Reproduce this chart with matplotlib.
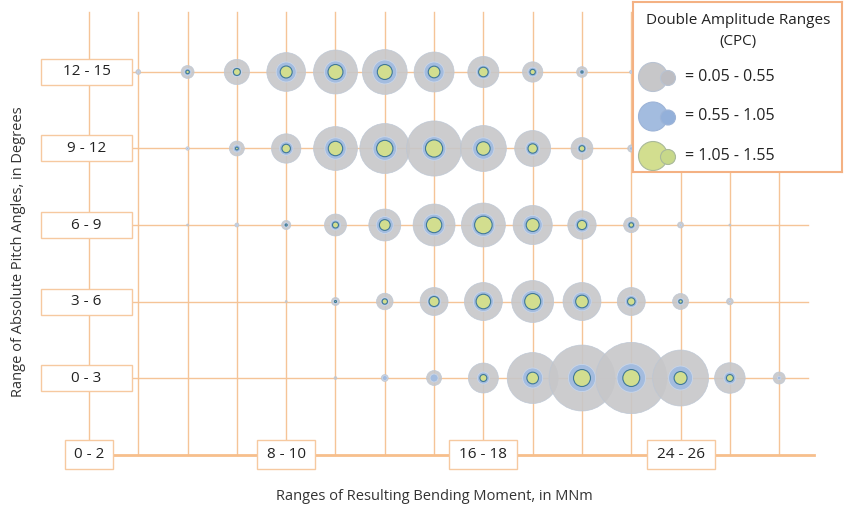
import matplotlib
matplotlib.use("Agg")
import matplotlib.pyplot as plt
from matplotlib.patches import Rectangle, Circle

plt.rcParams['font.family'] = ['Open Sans', 'DejaVu Sans']

# categories
moment_ranges = ["0 - 2", "2 - 4", "4 - 6", "6 - 8", "8 - 10", "10 - 12", "12 - 14", "14 - 16",
                 "16 - 18", "18 - 20", "20 - 22", "22 - 24", "24 - 26", "26 - 28", "28 - 30"]
shown_x_labels = ["0 - 2", "8 - 10", "16 - 18", "24 - 26"]
pitch_ranges = ["0 - 3", "3 - 6", "6 - 9", "9 - 12", "12 - 15"]

# counts per pitch row (bottom to top), one value per moment range
low_amp = [  # 0.05 - 0.55
    [0, 0, 0, 0, 0, 2, 12, 56, 225, 650, 1089, 1274, 784, 234, 36],
    [0, 0, 0, 0, 1, 16, 69, 196, 361, 441, 361, 196, 64, 11, 0],
    [0, 0, 1, 4, 21, 121, 256, 441, 484, 384, 202, 59, 9, 1, 0],
    [0, 0, 3, 56, 216, 480, 625, 762, 529, 324, 121, 13, 0, 0, 0],
    [0, 6, 42, 159, 376, 484, 502, 400, 243, 104, 29, 3, 0, 0, 0],
]
mid_amp = [  # 0.55 - 1.05
    [0, 0, 0, 0, 0, 0, 6, 16, 36, 100, 185, 204, 144, 36, 3],
    [0, 0, 0, 0, 0, 5, 16, 45, 100, 121, 86, 36, 11, 1, 0],
    [0, 0, 0, 1, 5, 25, 72, 117, 132, 92, 49, 18, 1, 0, 0],
    [0, 0, 1, 13, 46, 114, 139, 139, 114, 49, 22, 3, 0, 0, 0],
    [0, 1, 12, 23, 100, 121, 144, 100, 46, 23, 7, 1, 0, 0, 0],
]
high_amp = [  # 1.05 - 1.55
    [0, 0, 0, 0, 0, 0, 0, 0, 12, 34, 72, 72, 42, 12, 0],
    [0, 0, 0, 0, 0, 1, 7, 25, 53, 64, 40, 14, 3, 0, 0],
    [0, 0, 0, 0, 1, 9, 29, 59, 77, 42, 21, 5, 0, 0, 0],
    [0, 0, 0, 2, 18, 52, 67, 74, 46, 22, 8, 0, 0, 0, 0],
    [0, 0, 3, 12, 36, 56, 56, 34, 23, 7, 1, 0, 0, 0, 0],
]
legend_labels = ["= 0.05 - 0.55", "= 0.55 - 1.05", "= 1.05 - 1.55"]

gray = "#c7c7c9"
blue = "#a3bcdf"
green = "#d2de8f"
grid_c = "#f5c497"
box_c = "#f6c9a0"

fig = plt.figure(figsize=(8.48, 5.07), dpi=100)
ax = fig.add_axes([0, 0, 1, 1])
ax.set_xlim(-1.805, 15.396)
ax.set_ylim(-1.686, 4.941)
ax.axis("off")

nx = len(moment_ranges)
ny = len(pitch_ranges)

# grid lines
for i in range(nx):
    ax.plot([i, i], [-1, 4.78], color=grid_c, lw=1, zorder=1)
for j in range(ny):
    ax.plot([0, 14.58], [j, j], color=grid_c, lw=1, zorder=1)
ax.plot([0, 14.7], [-1, -1], color="#f7bf8c", lw=2, zorder=1)

# bubbles
k = 2.07
for j in range(ny):
    xs = list(range(nx))
    ys = [j] * nx
    ax.scatter(xs, ys, s=[v * k for v in low_amp[j]], color=gray, alpha=0.9,
               edgecolor="#bcc6d4", linewidth=0.5, zorder=3)
    ax.scatter(xs, ys, s=[v * k for v in mid_amp[j]], color=blue,
               edgecolor="#c9d6ea", linewidth=0.6, zorder=4)
    ax.scatter(xs, ys, s=[v * k for v in high_amp[j]], color=green,
               edgecolor="#3f7898", linewidth=0.8, zorder=5)

# y category boxes
bw, bh = 91 / 49.3, 26 / 76.5
for j, lab in enumerate(pitch_ranges):
    ax.add_patch(Rectangle((-0.05 - bw / 2, j - bh / 2), bw, bh, facecolor="white",
                           edgecolor=box_c, lw=1, zorder=6))
    ax.text(-0.05, j, lab, ha="center", va="center", fontsize=11, color="#222222", zorder=7)

# x category boxes
for lab in shown_x_labels:
    i = moment_ranges.index(lab)
    w = (len(lab) * 10 - 2) / 49.3
    h = 29 / 76.5
    ax.add_patch(Rectangle((i - w / 2, -1 - h / 2), w, h, facecolor="white",
                           edgecolor=box_c, lw=1, zorder=6))
    ax.text(i, -1, lab, ha="center", va="center", fontsize=11, color="#222222", zorder=7)

fig.text(434 / 848, 1 - 496 / 507, "Ranges of Resulting Bending Moment, in MNm",
         ha="center", va="center", fontsize=10.5, color="#333333")
fig.text(19 / 848, 1 - 252 / 507, "Range of Absolute Pitch Angles, in Degrees",
         ha="center", va="center", rotation=90, fontsize=10.5, color="#333333")

# legend panel
lax = fig.add_axes([633 / 848, 1 - 172 / 507, 209 / 848, 170 / 507])
lax.set_xlim(0, 209)
lax.set_ylim(170, 0)
lax.set_xticks([])
lax.set_yticks([])
lax.set_facecolor("white")
for sp in lax.spines.values():
    sp.set_color("#f4b183")
    sp.set_linewidth(1.5)
lax.text(105, 19, "Double Amplitude Ranges", ha="center", va="center", fontsize=11, color="#222222")
lax.text(105, 39, "(CPC)", ha="center", va="center", fontsize=11, color="#222222")
leg_fill = [(gray, "#b9c3d2", "#bdbdc2"), (blue, "#9db4d8", "#93b0da"), (green, "#a9b99a", "#c7d88a")]
for n, lab in enumerate(legend_labels):
    cy = 75 + n * 39.5
    face, edge, small = leg_fill[n]
    lax.add_patch(Circle((20, cy), 14.5, facecolor=face, edgecolor=edge, lw=0.8))
    lax.add_patch(Circle((35, cy + 1), 7.5, facecolor=small, edgecolor=edge, lw=0.8))
    lax.text(52, cy, lab, ha="left", va="center", fontsize=11.5, color="#222222")

fig.savefig("out.png", dpi=100)
